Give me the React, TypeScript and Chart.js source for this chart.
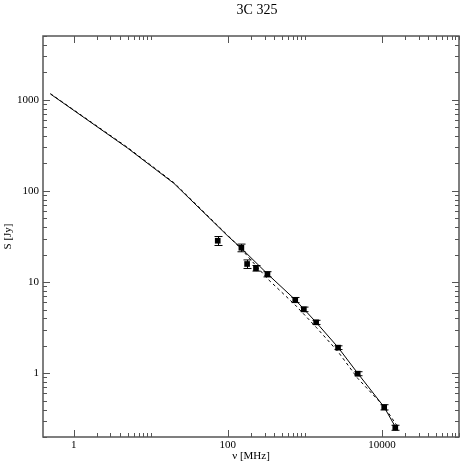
import React, { useEffect, useRef } from "react";
import { Chart, registerables } from "chart.js";

Chart.register(...registerables);

// Measured points (frequency in MHz, flux density in Jy, error in Jy)
const freqs = [74, 150, 178, 232, 327, 750, 970, 1400, 2695, 4850, 10700, 14900];
const fluxes = [28.4, 23.8, 15.8, 14.2, 12.2, 6.37, 5.03, 3.62, 1.91, 0.99, 0.424, 0.253];
const errors = [3.2, 2.3, 1.7, 1.0, 0.8, 0.41, 0.29, 0.19, 0.09, 0.05, 0.028, 0.016];

// Model curves
const solidFreq = [0.5, 5, 20, 100, 150, 330, 750, 1400, 2700, 4850, 10700, 15300];
const solidFlux = [1155, 295, 121, 32, 23.5, 12.2, 6.4, 3.62, 1.92, 1.0, 0.425, 0.249];
const dashedFreq = [0.5, 5, 20, 100, 150, 330, 750, 1400, 2700, 4850, 10700, 15500];
const dashedFlux = [1165, 300, 123, 32.5, 23, 10.8, 5.6, 3.2, 1.72, 0.88, 0.43, 0.27];

// Axes
const xMajorTicks = [1, 100, 10000];
const yMajorTicks = [1, 10, 100, 1000];
const minorFactors = [2, 3, 4, 5, 6, 7, 8, 9, 10];
const xMin = 0.4;
const xMax = 100000;
const yMin = 0.2;
const yMax = 5000;

const titleText = "3C 325";
const xTitle = "ν [MHz]";
const yTitle = "S [Jy]";

const FONT = "'Liberation Serif', 'DejaVu Serif', serif";

const framePlugin = {
  id: "frameTicks",
  afterDatasetsDraw(chart: any) {
    const ctx = chart.ctx;
    const xs = chart.scales.x;
    const ys = chart.scales.y;
    const meta = chart.getDatasetMeta(0);
    ctx.save();
    ctx.strokeStyle = "#000";
    ctx.lineWidth = 1;
    meta.data.forEach((pt: any, i: number) => {
      const v = fluxes[i];
      const e = errors[i];
      const x = Math.round(xs.getPixelForValue(freqs[i])) + 0.5;
      const yTop = ys.getPixelForValue(v + e);
      const yBot = ys.getPixelForValue(v - e);
      ctx.beginPath();
      ctx.moveTo(x, yTop);
      ctx.lineTo(x, yBot);
      ctx.moveTo(x - 4, yTop);
      ctx.lineTo(x + 4, yTop);
      ctx.moveTo(x - 4, yBot);
      ctx.lineTo(x + 4, yBot);
      ctx.stroke();
    });
    ctx.restore();
  },
  afterDraw(chart: any) {
    const ctx = chart.ctx;
    const { left, right, top, bottom } = chart.chartArea;
    const xs = chart.scales.x;
    const ys = chart.scales.y;
    ctx.save();
    ctx.strokeStyle = "#555";
    ctx.lineWidth = 1.5;
    ctx.strokeRect(left, top, right - left, bottom - top);
    ctx.lineWidth = 1;
    const majorLen = 7;
    const minorLen = 4;
    const drawX = (v: number, len: number) => {
      if (v < xMin || v > xMax) return;
      const x = Math.round(xs.getPixelForValue(v)) + 0.5;
      ctx.beginPath();
      ctx.moveTo(x, bottom);
      ctx.lineTo(x, bottom - len);
      ctx.moveTo(x, top);
      ctx.lineTo(x, top + len);
      ctx.stroke();
    };
    const drawY = (v: number, len: number) => {
      if (v < yMin || v > yMax) return;
      const y = Math.round(ys.getPixelForValue(v)) + 0.5;
      ctx.beginPath();
      ctx.moveTo(left, y);
      ctx.lineTo(left + len, y);
      ctx.moveTo(right, y);
      ctx.lineTo(right - len, y);
      ctx.stroke();
    };
    xMajorTicks.forEach((m) => {
      drawX(m, majorLen);
      minorFactors.forEach((k) => drawX(m * k, minorLen));
    });
    [0.1, 1, 10, 100, 1000].forEach((m) => {
      if (yMajorTicks.includes(m)) drawY(m, majorLen);
      minorFactors.slice(0, 8).forEach((k) => drawY(m * k, minorLen));
    });
    ctx.fillStyle = "#000";
    ctx.font = "14px " + FONT;
    ctx.textAlign = "center";
    ctx.textBaseline = "middle";
    ctx.fillText(titleText, 257, 10);
    ctx.restore();
  },
};

export default function App() {
  const ref = useRef<HTMLCanvasElement>(null);
  useEffect(() => {
    if (!ref.current) return;
    const chart = new Chart(ref.current, {
      type: "scatter",
      data: {
        datasets: [
          {
            label: "data",
            data: freqs.map((f, i) => ({ x: f, y: fluxes[i] })),
            pointStyle: "rect",
            pointRadius: 4,
            backgroundColor: "#000",
            borderColor: "#000",
            borderWidth: 0,
            showLine: false,
          },
          {
            label: "model",
            data: solidFreq.map((f, i) => ({ x: f, y: solidFlux[i] })),
            showLine: true,
            borderColor: "#000",
            borderWidth: 1,
            pointRadius: 0,
            fill: false,
          },
          {
            label: "model2",
            data: dashedFreq.map((f, i) => ({ x: f, y: dashedFlux[i] })),
            showLine: true,
            borderColor: "#000",
            borderWidth: 1,
            borderDash: [3, 3],
            pointRadius: 0,
            fill: false,
          },
        ],
      },
      options: {
        responsive: false,
        maintainAspectRatio: false,
        animation: false,
        devicePixelRatio: 1,
        layout: { padding: { top: 36, right: 2, left: 0, bottom: 0 } },
        plugins: {
          legend: { display: false },
          title: { display: false },
          tooltip: { enabled: false },
        },
        scales: {
          x: {
            type: "logarithmic",
            min: xMin,
            max: xMax,
            grid: { display: false, drawTicks: false },
            border: { display: false },
            afterBuildTicks: (s: any) => {
              s.ticks = xMajorTicks.map((v) => ({ value: v }));
            },
            afterFit: (s: any) => {
              s.height = 26;
            },
            ticks: {
              autoSkip: false,
              maxRotation: 0,
              padding: 2,
              color: "#000",
              font: { family: FONT, size: 11 },
              callback: (v: any) => String(v),
            },
            title: {
              display: true,
              text: xTitle,
              color: "#000",
              font: { family: FONT, size: 11 },
              padding: { top: 0, bottom: 0 },
            },
          },
          y: {
            type: "logarithmic",
            min: yMin,
            max: yMax,
            grid: { display: false, drawTicks: false },
            border: { display: false },
            afterBuildTicks: (s: any) => {
              s.ticks = yMajorTicks.map((v) => ({ value: v }));
            },
            afterFit: (s: any) => {
              s.width = 43;
            },
            ticks: {
              autoSkip: false,
              padding: 4,
              color: "#000",
              font: { family: FONT, size: 11 },
              callback: (v: any) => String(v),
            },
            title: {
              display: true,
              text: yTitle,
              color: "#000",
              font: { family: FONT, size: 11 },
              padding: { top: 2, bottom: 0 },
            },
          },
        },
      },
      plugins: [framePlugin],
    });
    return () => chart.destroy();
  }, []);
  return (
    <div style={{ position: "absolute", left: 0, top: 0, width: 463, height: 463, background: "#fff" }}>
      <canvas ref={ref} width={463} height={463} style={{ display: "block" }} />
    </div>
  );
}
